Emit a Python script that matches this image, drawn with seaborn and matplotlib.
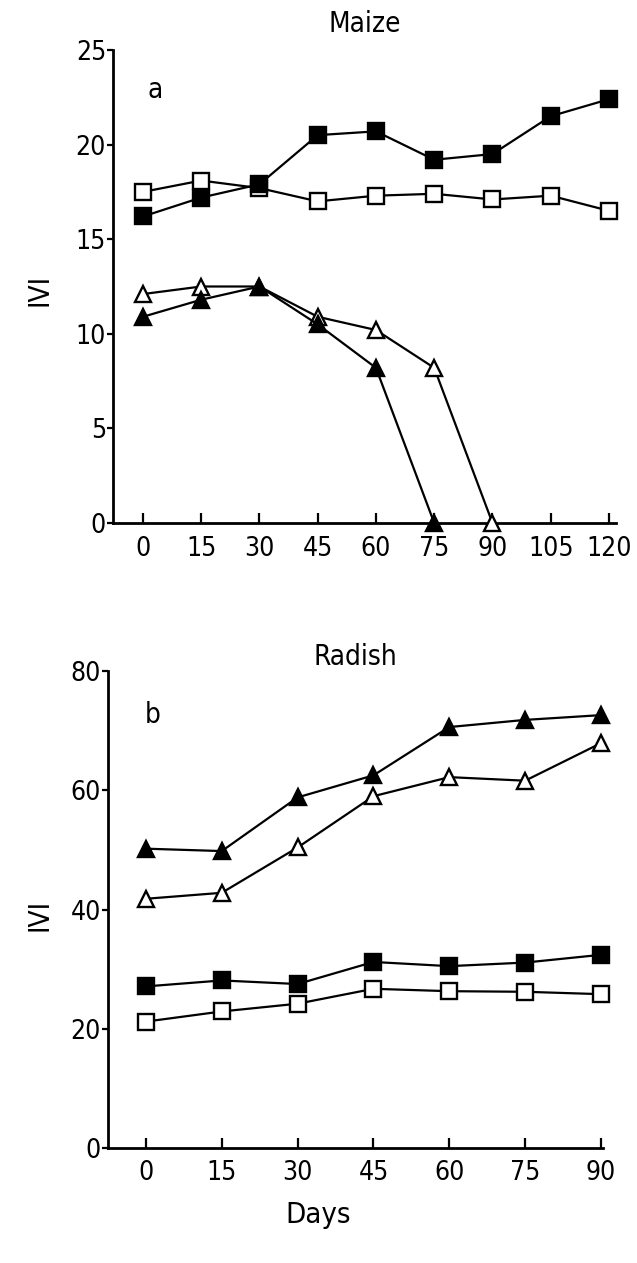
import matplotlib
matplotlib.use("Agg")
import matplotlib.pyplot as plt
import seaborn as sns
import pandas as pd

# Maize (panel a): importance value index over time
maize_days = [0, 15, 30, 45, 60, 75, 90, 105, 120]
maize_sq_filled = [16.2, 17.2, 17.9, 20.5, 20.7, 19.2, 19.5, 21.5, 22.4]
maize_sq_open = [17.5, 18.1, 17.7, 17.0, 17.3, 17.4, 17.1, 17.3, 16.5]
maize_tri_filled_days = [0, 15, 30, 45, 60, 75]
maize_tri_filled = [10.9, 11.8, 12.5, 10.5, 8.2, 0.0]
maize_tri_open_days = [0, 15, 30, 45, 60, 75, 90]
maize_tri_open = [12.1, 12.5, 12.5, 10.9, 10.2, 8.2, 0.0]
maize_yticks = [0, 5, 10, 15, 20, 25]

# Radish (panel b)
radish_days = [0, 15, 30, 45, 60, 75, 90]
radish_tri_filled = [50.2, 49.8, 58.8, 62.5, 70.6, 71.8, 72.6]
radish_tri_open = [41.8, 42.8, 50.4, 59.0, 62.2, 61.6, 67.9]
radish_sq_filled = [27.1, 28.1, 27.5, 31.2, 30.5, 31.1, 32.4]
radish_sq_open = [21.2, 22.9, 24.2, 26.7, 26.3, 26.2, 25.8]
radish_yticks = [0, 20, 40, 60, 80]

sns.set_style("ticks")
plt.rcParams["font.family"] = ["DejaVu Sans"]
plt.rcParams["font.stretch"] = "condensed"
for key in ("text.color", "axes.labelcolor", "xtick.color", "ytick.color", "axes.edgecolor"):
    plt.rcParams[key] = "black"

W, H = 637, 1263
fig = plt.figure(figsize=(W / 100, H / 100), dpi=100)

ax1 = fig.add_axes([113 / W, 1 - 523 / H, 503 / W, 473 / H])
ax2 = fig.add_axes([108 / W, 1 - 1148 / H, 495 / W, 477 / H])

LW = 1.6
MS = 11


def draw(ax, x, y, marker, filled):
    df = pd.DataFrame({"day": x, "ivi": y})
    sns.lineplot(
        data=df, x="day", y="ivi", ax=ax, color="black", linewidth=LW,
        marker=marker, markersize=MS if marker == "s" else MS + 1,
        markerfacecolor="black" if filled else "white",
        markeredgecolor="black", markeredgewidth=1.7,
        estimator=None, sort=False, legend=False, clip_on=False, zorder=3,
    )


draw(ax1, maize_days, maize_sq_open, "s", False)
draw(ax1, maize_days, maize_sq_filled, "s", True)
draw(ax1, maize_tri_open_days, maize_tri_open, "^", False)
draw(ax1, maize_tri_filled_days, maize_tri_filled, "^", True)

draw(ax2, radish_days, radish_tri_open, "^", False)
draw(ax2, radish_days, radish_tri_filled, "^", True)
draw(ax2, radish_days, radish_sq_open, "s", False)
draw(ax2, radish_days, radish_sq_filled, "s", True)

ax1.set_xlim(-7.7, 121.8)
ax1.set_ylim(0, 25)
ax1.set_xticks(maize_days)
ax1.set_yticks(maize_yticks)

ax2.set_xlim(-7.5, 90.4)
ax2.set_ylim(0, 80)
ax2.set_xticks(radish_days)
ax2.set_yticks(radish_yticks)

for ax in (ax1, ax2):
    for s in ("top", "right"):
        ax.spines[s].set_visible(False)
    for s in ("left", "bottom"):
        ax.spines[s].set_linewidth(2.0)
    ax.set_xlabel("")
    ax.set_ylabel("")
    ax.tick_params(axis="x", direction="in", length=7, width=1.6, pad=9, labelsize=19)
    ax.tick_params(axis="y", direction="out", length=4, width=1.6, pad=1, labelsize=19)
    ax.patch.set_alpha(0)

ax1.set_title("Maize", fontsize=20, pad=13)
ax2.set_title("Radish", fontsize=20, pad=4)
ax1.text(0.083, 0.915, "a", transform=ax1.transAxes, fontsize=20, ha="center", va="center")
ax2.text(0.091, 0.908, "b", transform=ax2.transAxes, fontsize=20, ha="center", va="center")

fig.text(40 / W, 1 - 290 / H, "IVI", rotation=90, fontsize=20, ha="center", va="center")
fig.text(40 / W, 1 - 915 / H, "IVI", rotation=90, fontsize=20, ha="center", va="center")
fig.text(318 / W, 1 - 1215 / H, "Days", fontsize=21, ha="center", va="center")

fig.savefig("out.png", dpi=100, facecolor="white")
